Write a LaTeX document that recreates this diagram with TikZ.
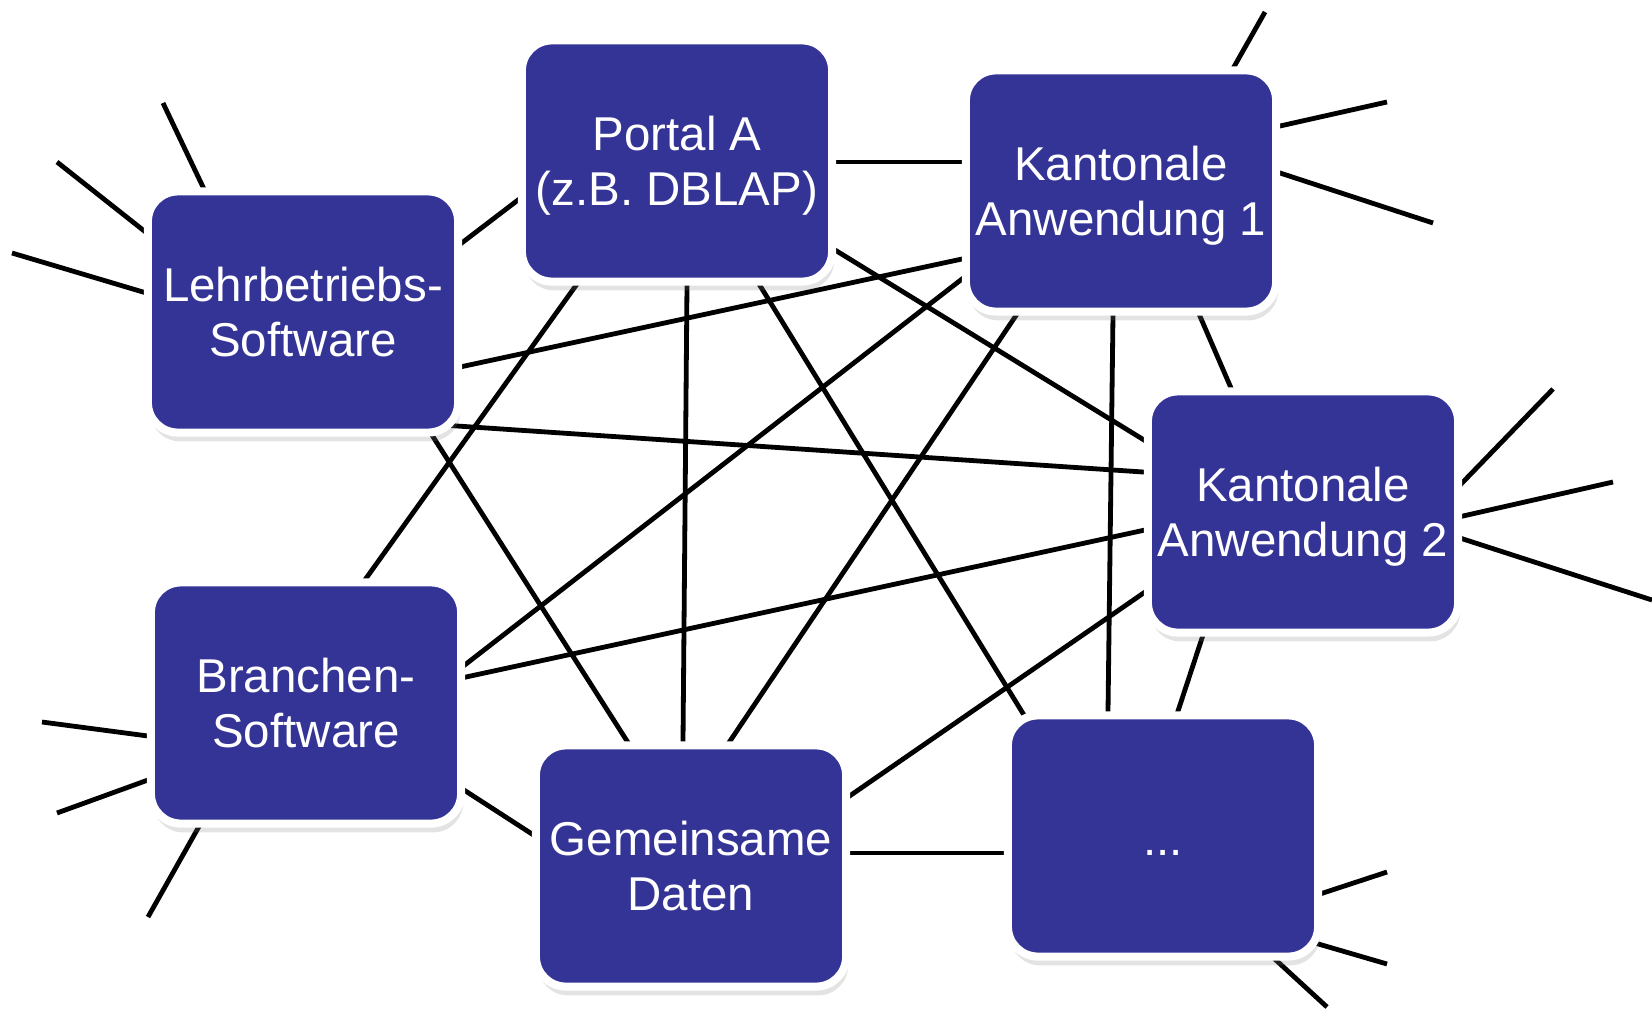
\documentclass[tikz,border=0pt]{standalone}
\usepackage{fontspec}
\setmainfont{Liberation Sans}
\usetikzlibrary{calc,shadows,backgrounds}
\definecolor{appblue}{RGB}{52,52,150}
\newcommand\appfont{\fontsize{13.5}{15.6}\selectfont}
\tikzset{
	app/.style={draw=white, line width=0.08cm, fill=appblue, rounded corners=0.3cm,
		minimum width=3.1cm, minimum height=2.41cm, inner sep=0pt, text depth=0pt,
		text=white, align=center, font=\appfont,
		drop shadow={shadow xshift=0.6pt, shadow yshift=-2.5pt, opacity=0.22}},
	link/.style={line width=0.048cm, shorten <=-4pt, shorten >=-4pt},
	stub/.style={line width=0.048cm, shorten >=-4pt}
}

\begin{document}
\begin{tikzpicture}[x=0.01cm, y=-0.01cm]
		%%%%% START %%%%%
		\useasboundingbox (0,0) rectangle (1652,1009);
		
		\node[app] (lehr) at (303,312) {Lehrbetriebs-\\Software};
		\node[app] (portal) at (677,161) {Portal A\\(z.B. DBLAP)};
		\node[app] (kant1) at (1121,191) {Kantonale\\Anwendung 1};
		\node[app] (kant2) at (1303,512) {Kantonale\\Anwendung 2};
		\node[app] (branche) at (306,703) {Branchen-\\Software};
		\node[app] (daten) at (691,866) {Gemeinsame\\Daten};
		\node[app] (more) at (1163,836) {\strut...};
		
		% loose ends
		\coordinate (lehr-a) at (163,103);
		\coordinate (lehr-b) at (57,162);
		\coordinate (lehr-c) at (12,253);
		\coordinate (kant1-a) at (1265,12);
		\coordinate (kant1-b) at (1387,102);
		\coordinate (kant1-c) at (1433,223);
		\coordinate (kant2-a) at (1553,389);
		\coordinate (kant2-b) at (1613,482);
		\coordinate (kant2-c) at (1652,600);
		\coordinate (branche-a) at (42,722);
		\coordinate (branche-b) at (57,813);
		\coordinate (branche-c) at (148,917);
		\coordinate (more-a) at (1387,872);
		\coordinate (more-b) at (1387,964);
		\coordinate (more-c) at (1327,1007);
		
		\begin{pgfonlayer}{background}
		\draw[stub] (lehr-a) -- ($(lehr)+(-100,-125)$);
		\draw[stub] (lehr-b) -- ($(lehr)+(-160,-82)$);
		\draw[stub] (lehr-c) -- ($(lehr)+(-160,-20)$);
		\draw[stub] (kant1-a) -- ($(kant1)+(114,-126)$);
		\draw[stub] (kant1-b) -- ($(kant1)+(159,-65)$);
		\draw[stub] (kant1-c) -- ($(kant1)+(159,-18)$);
		\draw[stub] (kant2-a) -- ($(kant2)+(160,-30)$);
		\draw[stub] (kant2-b) -- ($(kant2)+(160,4)$);
		\draw[stub] (kant2-c) -- ($(kant2)+(160,27)$);
		\draw[stub] (branche-a) -- ($(branche)+(-158,33)$);
		\draw[stub] (branche-b) -- ($(branche)+(-158,77)$);
		\draw[stub] (branche-c) -- ($(branche)+(-109,127)$);
		\draw[stub] (more-a) -- ($(more)+(160,57)$);
		\draw[stub] (more-b) -- ($(more)+(152,107)$);
		\draw[stub] (more-c) -- ($(more)+(115,126)$);
		
		\draw[link] ($(lehr)+(160,-70)$) -- ($(portal)+(-159,39)$);
		\draw[link] ($(portal)+(159,1)$) -- ($(kant1)+(-159,-29)$);
		\draw[link] ($(lehr)+(157,55)$) -- ($(kant1)+(-159,68)$);
		\draw[link] ($(portal)+(158,89)$) -- ($(kant2)+(-159,-72)$);
		\draw[link] ($(lehr)+(154,114)$) -- ($(kant2)+(-160,-40)$);
		\draw[link] ($(portal)+(-100,123)$) -- ($(branche)+(61,-126)$);
		\draw[link] ($(portal)+(10,123)$) -- ($(daten)+(-8,-125)$);
		\draw[link] ($(portal)+(82,123)$) -- ($(more)+(-136,-116)$);
		\draw[link] ($(kant1)+(-159,88)$) -- ($(branche)+(160,-39)$);
		\draw[link] ($(kant1)+(-104,123)$) -- ($(daten)+(39,-125)$);
		\draw[link] ($(kant1)+(-8,123)$) -- ($(more)+(-55,-125)$);
		\draw[link] ($(kant1)+(78,123)$) -- ($(kant2)+(-72,-124)$);
		\draw[link] ($(lehr)+(127,120)$) -- ($(daten)+(-64,-125)$);
		\draw[link] ($(kant2)+(-158,18)$) -- ($(branche)+(160,-26)$);
		\draw[link] ($(kant2)+(-158,80)$) -- ($(daten)+(160,-71)$);
		\draw[link] ($(kant2)+(-100,123)$) -- ($(more)+(15,-125)$);
		\draw[link] ($(branche)+(158,87)$) -- ($(daten)+(-159,-32)$);
		\draw[link] ($(daten)+(157,-13)$) -- ($(more)+(-157,17)$);
		\end{pgfonlayer}
		
		%%%%% END %%%%%
\end{tikzpicture}
\end{document}
